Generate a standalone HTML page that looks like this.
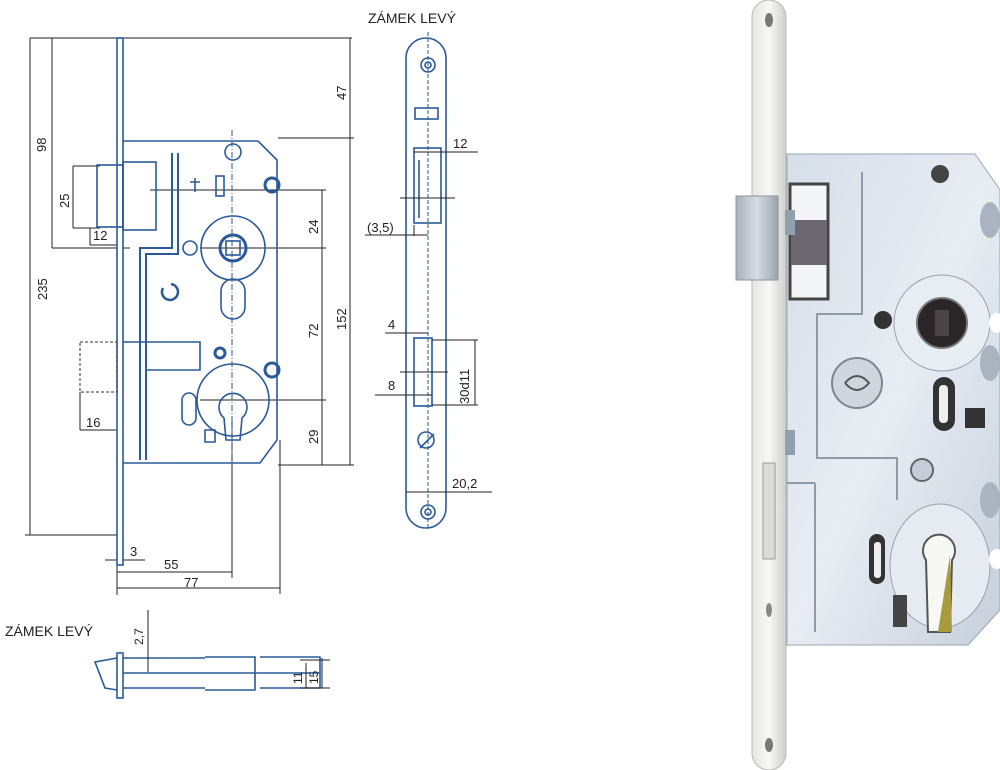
<!DOCTYPE html>
<html><head><meta charset="utf-8"><style>
html,body{margin:0;padding:0;background:#fff;width:1000px;height:770px;overflow:hidden}
svg{display:block}
text{font-family:"Liberation Sans",sans-serif;fill:#222}
</style></head><body>
<svg width="1000" height="770" viewBox="0 0 1000 770">
<defs>
<linearGradient id="fp" x1="0" x2="1"><stop offset="0" stop-color="#e6e6e2"/><stop offset=".5" stop-color="#f7f7f4"/><stop offset="1" stop-color="#cfd0cc"/></linearGradient>
<linearGradient id="cs" x1="0" y1="0" x2="1" y2="1"><stop offset="0" stop-color="#d6dee8"/><stop offset=".5" stop-color="#e8edf3"/><stop offset="1" stop-color="#c6cfdb"/></linearGradient>
<linearGradient id="lt" x1="0" x2="1"><stop offset="0" stop-color="#a9b1bb"/><stop offset=".5" stop-color="#d6dce3"/><stop offset="1" stop-color="#9aa3ad"/></linearGradient>
</defs>

<!-- ===== MAIN DRAWING ===== -->
<g stroke="#222" stroke-width="1" fill="none">
 <line x1="30" y1="38" x2="352" y2="38"/>
 <line x1="30" y1="38" x2="30" y2="535"/><line x1="25" y1="535" x2="117" y2="535"/>
 <line x1="52" y1="38" x2="52" y2="248"/><line x1="52" y1="248" x2="130" y2="248"/>
 <line x1="73" y1="166" x2="73" y2="228"/><line x1="73" y1="166" x2="100" y2="166"/><line x1="73" y1="228" x2="100" y2="228"/>
 <line x1="90" y1="228" x2="90" y2="245"/><line x1="90" y1="245" x2="117" y2="245"/>
 <line x1="350" y1="38" x2="350" y2="465"/><line x1="278" y1="138" x2="354" y2="138"/>
 <line x1="322" y1="190" x2="322" y2="465"/>
 <line x1="150" y1="190" x2="326" y2="190"/><line x1="200" y1="248" x2="326" y2="248"/><line x1="200" y1="400" x2="326" y2="400"/>
 <line x1="278" y1="465" x2="354" y2="465"/>
 <line x1="80" y1="392" x2="80" y2="430"/><line x1="80" y1="430" x2="117" y2="430"/>
 <line x1="117" y1="540" x2="117" y2="595"/><line x1="123" y1="540" x2="123" y2="560"/>
 <line x1="105" y1="560" x2="145" y2="560"/>
 <line x1="117" y1="572" x2="232" y2="572"/><line x1="232" y1="420" x2="232" y2="578"/>
 <line x1="117" y1="588" x2="280" y2="588"/><line x1="280" y1="440" x2="280" y2="594"/>
</g>
<g font-size="13">
 <text x="0" y="0" transform="translate(47,300) rotate(-90)">235</text>
 <text x="0" y="0" transform="translate(46,152) rotate(-90)">98</text>
 <text x="0" y="0" transform="translate(69,208) rotate(-90)">25</text>
 <text x="93" y="240">12</text>
 <text x="0" y="0" transform="translate(346,100) rotate(-90)">47</text>
 <text x="0" y="0" transform="translate(346,330) rotate(-90)">152</text>
 <text x="0" y="0" transform="translate(318,234) rotate(-90)">24</text>
 <text x="0" y="0" transform="translate(318,338) rotate(-90)">72</text>
 <text x="0" y="0" transform="translate(318,444) rotate(-90)">29</text>
 <text x="86" y="427">16</text>
 <text x="130" y="556">3</text>
 <text x="164" y="569">55</text>
 <text x="184" y="587">77</text>
</g>
<g stroke="#2a5a9a" stroke-width="1.6" fill="none">
 <rect x="117" y="38" width="6" height="527" fill="#fff"/>
 <path d="M123 141 H258 L277 160 V440 L260 463 H123"/>
 <rect x="97" y="165" width="26" height="62"/>
 <rect x="123" y="162" width="33" height="68"/>
 <path d="M172 153 V248 H140 V460 M178 153 V254 H146 V460" stroke-width="2"/>
 <path d="M123 342 H200 V370 H146"/>
 <rect x="80" y="342" width="37" height="50" stroke-dasharray="3 2" stroke="#333" stroke-width="1"/>
 <circle cx="233" cy="248" r="32"/><circle cx="233" cy="248" r="13" stroke-width="3"/><rect x="226" y="241" width="14" height="14"/>
 <circle cx="190" cy="248" r="7"/>
 <circle cx="233" cy="152" r="8"/>
 <rect x="221" y="279" width="24" height="40" rx="12"/>
 <circle cx="233" cy="400" r="36"/>
 <path d="M226 440 L224 418 A14 14 0 1 1 242 418 L240 440 Z"/>
 <rect x="182" y="393" width="14" height="32" rx="7"/>
 <circle cx="272" cy="185" r="7" stroke-width="3"/><circle cx="272" cy="370" r="7" stroke-width="3"/>
 <circle cx="220" cy="353" r="5" stroke-width="3"/>
 <path d="M163 288 a8 8 0 1 0 8 -4" stroke-width="2.5"/>
 <rect x="216" y="176" width="8" height="20"/><path d="M195 178 v14 M190 182 h10"/>
 <path d="M205 430 h10 v12 h-10 z"/>
</g>
<line x1="232" y1="130" x2="232" y2="465" stroke="#2a5a9a" stroke-dasharray="6 2 1 2"/>

<!-- ===== MIDDLE ===== -->
<text x="368" y="23" font-size="14">ZÁMEK LEVÝ</text>
<g stroke="#2a5a9a" stroke-width="1.6" fill="none">
 <rect x="406" y="38" width="40" height="490" rx="20"/>
 <circle cx="428" cy="65" r="7"/><circle cx="428" cy="65" r="3"/>
 <circle cx="428" cy="512" r="7"/><circle cx="428" cy="512" r="3"/>
 <rect x="415" y="108" width="23" height="11"/>
 <rect x="414" y="148" width="27" height="75"/><path d="M419 160 V218"/>
 <rect x="414" y="338" width="18" height="68"/>
 <circle cx="426" cy="440" r="8"/><path d="M420 448 L434 434"/>
</g>
<line x1="428" y1="32" x2="428" y2="530" stroke="#2a5a9a" stroke-dasharray="4 2"/>
<g stroke="#222" fill="none">
 <line x1="414" y1="152" x2="478" y2="152"/><line x1="400" y1="198" x2="455" y2="198"/>
 <line x1="365" y1="235" x2="428" y2="235"/><line x1="414" y1="225" x2="414" y2="236"/>
 <line x1="385" y1="333" x2="428" y2="333"/>
 <line x1="432" y1="340" x2="478" y2="340"/><line x1="432" y1="405" x2="478" y2="405"/><line x1="475" y1="340" x2="475" y2="405"/>
 <line x1="375" y1="395" x2="432" y2="395"/><line x1="400" y1="372" x2="448" y2="372"/>
 <line x1="406" y1="492" x2="492" y2="492"/>
</g>
<g font-size="13">
 <text x="453" y="148">12</text><text x="367" y="232">(3,5)</text>
 <text x="388" y="329">4</text><text x="388" y="390">8</text>
 <text x="0" y="0" transform="translate(469,404) rotate(-90)">30d11</text>
 <text x="452" y="488">20,2</text>
</g>

<!-- ===== BOTTOM ===== -->
<text x="5" y="636" font-size="14">ZÁMEK LEVÝ</text>
<g stroke="#2a5a9a" stroke-width="1.6" fill="none">
 <rect x="117" y="653" width="6" height="45"/>
 <path d="M123 658 H205 M123 688 H205 M205 657 H255 V690 H205 M260 657 H320 V688 H260 M255 657 V690 M123 673 H320"/>
 <path d="M117 658 L95 662 L105 688 L117 690"/>
</g>
<g stroke="#222" fill="none">
 <line x1="148" y1="610" x2="148" y2="672"/><line x1="300" y1="660" x2="330" y2="660"/><line x1="300" y1="688" x2="330" y2="688"/>
 <line x1="306" y1="663" x2="306" y2="688"/><line x1="322" y1="658" x2="322" y2="688"/>
</g>
<g font-size="12">
 <text x="0" y="0" transform="translate(143,645) rotate(-90)">2,7</text>
 <text x="0" y="0" transform="translate(302,684) rotate(-90)">11</text>
 <text x="0" y="0" transform="translate(318,684) rotate(-90)">15</text>
</g>

<!-- ===== PHOTO ===== -->
<rect x="752" y="0" width="34" height="770" rx="17" fill="url(#fp)" stroke="#b8bab6"/>
<ellipse cx="769" cy="20" rx="4" ry="7" fill="#777"/>
<ellipse cx="769" cy="745" rx="4" ry="7" fill="#777"/>
<ellipse cx="769" cy="610" rx="3" ry="7" fill="#888"/>
<rect x="763" y="463" width="12" height="96" fill="#dcdcd6" stroke="#999"/>
<path d="M787 154 H975 L1000 190 V610 L968 645 H787 Z" fill="url(#cs)" stroke="#9aa5b3"/>
<rect x="790" y="184" width="38" height="115" fill="#f4f5f6" stroke="#444" stroke-width="3"/>
<rect x="791" y="220" width="36" height="45" fill="#6b6670"/>
<rect x="736" y="196" width="42" height="84" fill="url(#lt)" stroke="#8c949e"/>
<g stroke="#8f9aa8" stroke-width="2" fill="none">
 <path d="M862 172 V314 H817 V458 H897 V500"/>
 <path d="M815 483 H787 M815 483 V632"/>
</g>
<circle cx="940" cy="174" r="9" fill="#444"/>
<circle cx="942" cy="323" r="48" fill="#e8edf3" stroke="#98a2ae"/>
<circle cx="942" cy="323" r="25" fill="#2a2526" stroke="#777" stroke-width="2"/>
<rect x="935" y="310" width="14" height="26" fill="#4a4446"/>
<circle cx="883" cy="320" r="9" fill="#333"/>
<circle cx="857" cy="383" r="25" fill="#cfd6de" stroke="#7d8794" stroke-width="2"/>
<path d="M845 383 q12 -14 24 0 q-12 14 -24 0" stroke="#555" fill="none" stroke-width="2"/>
<rect x="933" y="377" width="22" height="54" rx="11" fill="#333"/>
<rect x="939" y="385" width="9" height="38" rx="4" fill="#eee"/>
<rect x="965" y="408" width="20" height="20" fill="#333"/>
<circle cx="922" cy="470" r="11" fill="#c5ced8" stroke="#666" stroke-width="2"/>
<ellipse cx="940" cy="566" rx="50" ry="62" fill="#e6ebf1" stroke="#98a2ae"/>
<path d="M928 632 L926 560 A16 16 0 1 1 952 560 L950 632 Z" fill="#f7f7f4" stroke="#555" stroke-width="2"/>
<path d="M950 555 L952 632 L938 632 Z" fill="#a89a3e"/>
<rect x="869" y="534" width="16" height="50" rx="8" fill="#333"/>
<rect x="874" y="542" width="7" height="36" rx="3" fill="#eee"/>
<rect x="893" y="595" width="14" height="32" fill="#444"/>
<rect x="785" y="210" width="10" height="25" fill="#8fa0b0"/>
<rect x="785" y="430" width="10" height="25" fill="#8fa0b0"/>
<ellipse cx="990" cy="220" rx="10" ry="18" fill="#aab4c0"/>
<ellipse cx="990" cy="363" rx="10" ry="18" fill="#aab4c0"/>
<ellipse cx="990" cy="500" rx="10" ry="18" fill="#aab4c0"/>
<ellipse cx="997" cy="323" rx="8" ry="10" fill="#fff"/>
<ellipse cx="997" cy="559" rx="8" ry="10" fill="#fff"/>
</svg>
</body></html>
